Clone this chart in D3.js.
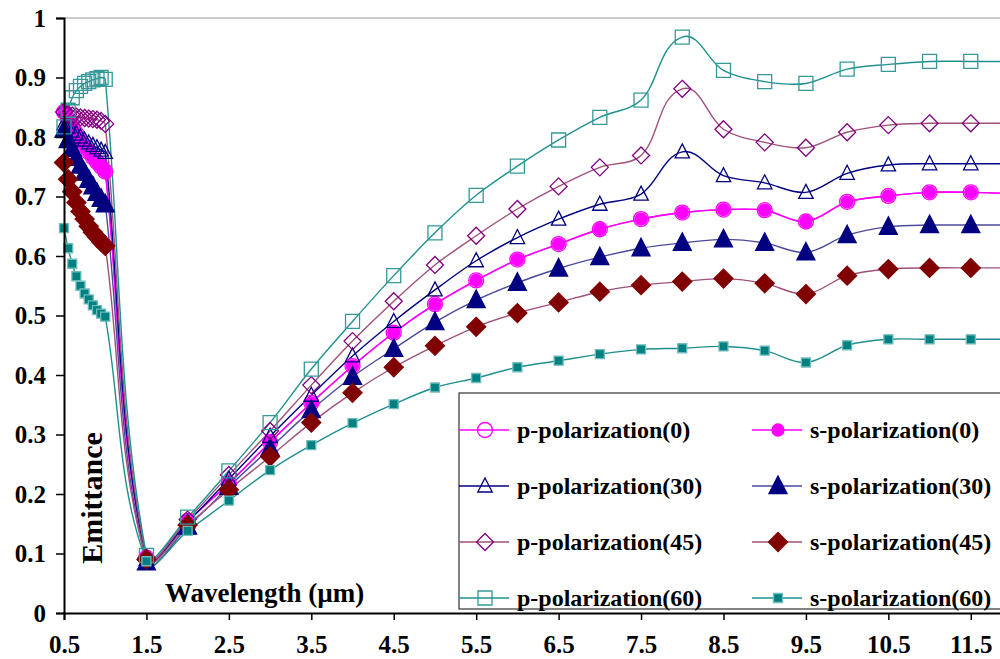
<!DOCTYPE html>
<html>
<head>
<meta charset="utf-8">
<script src="https://cdn.jsdelivr.net/npm/d3@7"></script>
<style>
  body { margin: 0; background: #fff; }
  text { font-family: "Liberation Serif", "Times New Roman", serif; font-weight: bold; }
</style>
</head>
<body>
<svg id="chart" width="1000" height="659"></svg>
<script>
// wavelength (um): fine steps below 1 um, then 0.5 um steps
var wavelength = [0.5, 0.55, 0.6, 0.65, 0.7, 0.75, 0.8, 0.85, 0.9, 0.95, 1.0,
  1.5, 2, 2.5, 3, 3.5, 4, 4.5, 5, 5.5, 6, 6.5, 7, 7.5, 8, 8.5, 9, 9.5, 10, 10.5, 11, 11.5, 12];

var p0 = [0.842, 0.83, 0.818, 0.806, 0.795, 0.785, 0.775, 0.766, 0.758, 0.75, 0.742,
  0.093, 0.155, 0.218, 0.287, 0.353, 0.415, 0.471, 0.519, 0.559, 0.594, 0.62, 0.645, 0.662, 0.673, 0.678, 0.677, 0.658, 0.691, 0.701, 0.707, 0.707, 0.705];
var s0 = [0.842, 0.83, 0.818, 0.806, 0.795, 0.785, 0.775, 0.766, 0.758, 0.75, 0.742,
  0.093, 0.155, 0.218, 0.287, 0.353, 0.415, 0.471, 0.519, 0.559, 0.594, 0.62, 0.645, 0.662, 0.673, 0.678, 0.677, 0.658, 0.691, 0.701, 0.707, 0.707, 0.705];
var p30 = [0.822, 0.816, 0.81, 0.805, 0.8, 0.795, 0.79, 0.786, 0.782, 0.778, 0.774,
  0.09, 0.153, 0.225, 0.297, 0.366, 0.432, 0.49, 0.543, 0.592, 0.631, 0.662, 0.687, 0.704, 0.775, 0.735, 0.723, 0.707, 0.739, 0.753, 0.755, 0.755, 0.755];
var s30 = [0.812, 0.795, 0.78, 0.765, 0.752, 0.74, 0.728, 0.717, 0.706, 0.696, 0.687,
  0.085, 0.145, 0.212, 0.277, 0.341, 0.397, 0.444, 0.489, 0.526, 0.555, 0.579, 0.598, 0.613, 0.622, 0.628, 0.622, 0.606, 0.635, 0.649, 0.652, 0.652, 0.652];
var p45 = [0.842, 0.838, 0.836, 0.834, 0.833, 0.832, 0.831, 0.83, 0.829, 0.827, 0.822,
  0.093, 0.157, 0.232, 0.306, 0.383, 0.457, 0.524, 0.585, 0.634, 0.679, 0.717, 0.749, 0.769, 0.881, 0.813, 0.791, 0.782, 0.808, 0.82, 0.823, 0.823, 0.823];
var s45 = [0.757, 0.729, 0.708, 0.69, 0.675, 0.662, 0.65, 0.64, 0.632, 0.624, 0.617,
  0.09, 0.148, 0.207, 0.263, 0.32, 0.37, 0.413, 0.449, 0.481, 0.504, 0.522, 0.54, 0.551, 0.557, 0.562, 0.554, 0.536, 0.567, 0.578, 0.58, 0.58, 0.58];
var p60 = [0.817, 0.845, 0.866, 0.878, 0.885, 0.89, 0.893, 0.896, 0.898, 0.9, 0.897,
  0.097, 0.161, 0.239, 0.32, 0.41, 0.49, 0.567, 0.639, 0.702, 0.751, 0.795, 0.833, 0.862, 0.968, 0.912, 0.893, 0.89, 0.914, 0.922, 0.927, 0.927, 0.927];
var s60 = [0.647, 0.613, 0.587, 0.566, 0.55, 0.537, 0.527, 0.517, 0.509, 0.503, 0.498,
  0.087, 0.138, 0.189, 0.24, 0.282, 0.319, 0.351, 0.379, 0.395, 0.413, 0.424, 0.435, 0.443, 0.445, 0.448, 0.441, 0.421, 0.45, 0.46, 0.46, 0.46, 0.46];

var seriesNames = ["p-polarization(0)", "s-polarization(0)", "p-polarization(30)", "s-polarization(30)",
  "p-polarization(45)", "s-polarization(45)", "p-polarization(60)", "s-polarization(60)"];
var xTicks = [0.5, 1.5, 2.5, 3.5, 4.5, 5.5, 6.5, 7.5, 8.5, 9.5, 10.5, 11.5];
var yTicks = [0, 0.1, 0.2, 0.3, 0.4, 0.5, 0.6, 0.7, 0.8, 0.9, 1];

// look of each series (line colour, marker shape, marker fill/stroke)
var styles = [
  { line: "#ff00ff", shape: "circle", size: 7.5, fill: "none", stroke: "#ff00ff" },
  { line: "#ff00ff", shape: "circle", size: 6, fill: "#ff00ff", stroke: "#ff00ff" },
  { line: "#000080", shape: "triangle", size: 8, fill: "none", stroke: "#000080" },
  { line: "#4a4a9c", shape: "triangle", size: 10, fill: "#000080", stroke: "#000080" },
  { line: "#a0507a", shape: "diamond", size: 8.5, fill: "none", stroke: "#800080" },
  { line: "#a0507a", shape: "diamond", size: 9.5, fill: "#800000", stroke: "#800000" },
  { line: "#1f9090", shape: "square", size: 7, fill: "none", stroke: "#339999" },
  { line: "#1f8f8f", shape: "square", size: 4.5, fill: "#008080", stroke: "#6fbcbc" }
];
var values = [p0, s0, p30, s30, p45, s45, p60, s60];

var svg = d3.select("#chart");

var x = d3.scaleLinear().domain([0.5, 12]).range([64, 1012]);
var y = d3.scaleLinear().domain([0, 1]).range([613, 18]);

function markerPath(shape, r) {
  if (shape == "circle") return "M" + (-r) + ",0A" + r + "," + r + " 0 1,0 " + r + ",0A" + r + "," + r + " 0 1,0 " + (-r) + ",0Z";
  if (shape == "triangle") return "M0," + (-r) + "L" + (r * 0.9) + "," + (r * 0.75) + "L" + (-r * 0.9) + "," + (r * 0.75) + "Z";
  if (shape == "diamond") return "M0," + (-r) + "L" + r + ",0L0," + r + "L" + (-r) + ",0Z";
  return "M" + (-r) + "," + (-r) + "H" + r + "V" + r + "H" + (-r) + "Z";
}

// spreadsheet-style smoothing: tangent along neighbours, arm scaled by segment length
function smoothPath(pts) {
  var n = pts.length, p = d3.path();
  var tan = pts.map(function(pt, i) {
    var a = pts[Math.max(i - 1, 0)], b = pts[Math.min(i + 1, n - 1)];
    var dx = b[0] - a[0], dy = b[1] - a[1], len = Math.hypot(dx, dy) || 1;
    return [dx / len, dy / len];
  });
  p.moveTo(pts[0][0], pts[0][1]);
  for (var i = 0; i < n - 1; i++) {
    var a = pts[i], b = pts[i + 1];
    var d = Math.hypot(b[0] - a[0], b[1] - a[1]) / 3;
    p.bezierCurveTo(a[0] + tan[i][0] * d, a[1] + tan[i][1] * d,
      b[0] - tan[i + 1][0] * d, b[1] - tan[i + 1][1] * d, b[0], b[1]);
  }
  return p.toString();
}

// top border
svg.append("line")
  .attr("x1", 64).attr("x2", 1000).attr("y1", y(1)).attr("y2", y(1))
  .attr("stroke", "#9a9a9a").attr("stroke-width", 1);

var series = values.map(function(arr, i) {
  return { name: seriesNames[i], style: styles[i],
    points: arr.map(function(v, j) { return { w: wavelength[j], v: v }; }) };
});

var plot = svg.append("g");
series.forEach(function(s) {
  plot.append("path")
    .attr("d", smoothPath(s.points.map(function(d) { return [x(d.w), y(d.v)]; })))
    .attr("fill", "none")
    .attr("stroke", s.style.line)
    .attr("stroke-width", 1.4);
});
series.forEach(function(s) {
  plot.append("g").selectAll("path")
    .data(s.points)
    .enter().append("path")
    .attr("transform", function(d) { return "translate(" + x(d.w) + "," + y(d.v) + ")"; })
    .attr("d", markerPath(s.style.shape, s.style.size))
    .attr("fill", s.style.fill)
    .attr("stroke", s.style.stroke)
    .attr("stroke-width", 1.3);
});

// axes
var yAxis = svg.append("g")
  .attr("transform", "translate(64,0)")
  .call(d3.axisLeft(y).tickValues(yTicks).tickSize(8).tickPadding(10)
    .tickFormat(function(d) { return d == 0 || d == 1 ? String(d) : d3.format(".1f")(d); }));
var xAxis = svg.append("g")
  .attr("transform", "translate(0,613)")
  .call(d3.axisBottom(x).tickValues(xTicks).tickSize(7).tickPadding(15)
    .tickFormat(d3.format(".1f")));
[xAxis, yAxis].forEach(function(a) {
  a.select(".domain").attr("stroke", "#000").attr("stroke-width", 2);
  a.selectAll(".tick line").attr("stroke", "#000").attr("stroke-width", 1.5);
  a.selectAll("text").attr("fill", "#000").style("font-size", "25px")
    .style("font-family", "'Liberation Serif', serif").style("font-weight", "bold");
});

// legend
var legend = svg.append("g");
legend.append("rect")
  .attr("x", 459).attr("y", 393).attr("width", 600).attr("height", 216)
  .attr("fill", "#fff").attr("stroke", "#333").attr("stroke-width", 1.2);
series.forEach(function(s, i) {
  var col = i % 2, row = Math.floor(i / 2);
  var lx = 459 + col * 293, ly = 430 + row * 56;
  var g = legend.append("g").attr("transform", "translate(" + lx + "," + ly + ")");
  g.append("line").attr("x1", 0).attr("x2", 50).attr("y1", 0).attr("y2", 0)
    .attr("stroke", s.style.line).attr("stroke-width", 1.4);
  g.append("path")
    .attr("transform", "translate(26,0)")
    .attr("d", markerPath(s.style.shape, s.style.size))
    .attr("fill", s.style.fill)
    .attr("stroke", s.style.stroke)
    .attr("stroke-width", 1.3);
  g.append("text")
    .attr("x", 58).attr("dy", "0.35em")
    .style("font-size", "24px")
    .text(s.name);
});

// axis titles
svg.append("text")
  .attr("x", 165).attr("y", 602)
  .style("font-size", "27px")
  .text("Wavelength (\u00b5m)");
svg.append("text")
  .attr("transform", "translate(102,498) rotate(-90)")
  .attr("text-anchor", "middle")
  .style("font-size", "30px")
  .text("Emittance");
</script>
</body>
</html>
